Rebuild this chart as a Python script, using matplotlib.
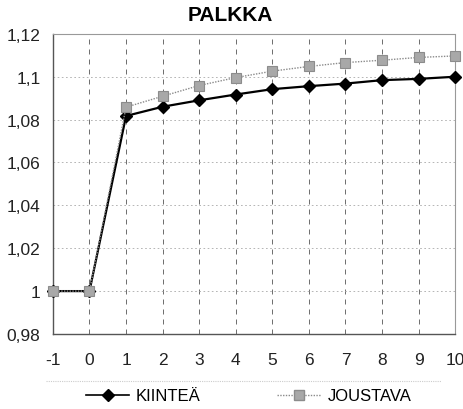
import matplotlib.pyplot as plt
from matplotlib.lines import Line2D

plt.rcParams['font.family'] = ['Liberation Sans', 'DejaVu Sans']
plt.rcParams['axes.unicode_minus'] = False

# ── Data ───────────────────────────────────────────────────────
years = [-1, 0, 1, 2, 3, 4, 5, 6, 7, 8, 9, 10]
kiintea = [1.0, 1.0, 1.0817, 1.0860, 1.0890, 1.0917, 1.0942, 1.0956,
           1.0968, 1.0984, 1.0990, 1.1000]
joustava = [1.0, 1.0, 1.0858, 1.0909, 1.0959, 1.0996, 1.1026, 1.1048,
            1.1066, 1.1077, 1.1090, 1.1097]
y_ticks = [0.98, 1.0, 1.02, 1.04, 1.06, 1.08, 1.10, 1.12]
y_labels = ['0,98', '1', '1,02', '1,04', '1,06', '1,08', '1,1', '1,12']

# ── Plot ───────────────────────────────────────────────────────
fig = plt.figure(figsize=(4.64, 4.10), dpi=100)
ax = fig.add_axes([0.114, 0.183, 0.867, 0.732])

ax.plot(years, kiintea, color='black', lw=1.6, marker='D', ms=6.5,
        mfc='black', mec='black', zorder=4, clip_on=False)
ax.plot(years, joustava, color='#8a8a8a', lw=1.0, ls=(0, (1, 1)),
        marker='s', ms=7.5, mfc='#a8a8a8', mec='#8c8c8c', mew=0.8,
        zorder=5, clip_on=False)

ax.set_xlim(-1, 10)
ax.set_ylim(0.98, 1.12)
ax.set_xticks(years)
ax.set_yticks(y_ticks)
ax.set_yticklabels(y_labels)
ax.tick_params(length=0, labelsize=12.5, colors='#222222')
ax.tick_params(axis='x', pad=13)
ax.tick_params(axis='y', pad=9)

ax.xaxis.grid(True, color='#555555', ls=(0, (6, 6)), lw=0.6)
ax.yaxis.grid(True, color='#aaaaaa', ls=(0, (2, 3)), lw=0.6)

for side in ('top', 'right'):
    ax.spines[side].set_color('#999999')
    ax.spines[side].set_linestyle((0, (1, 1)))
    ax.spines[side].set_linewidth(0.8)
for side in ('left', 'bottom'):
    ax.spines[side].set_color('#555555')
    ax.spines[side].set_linewidth(1.0)

fig.text(0.497, 0.962, 'PALKKA', ha='center', va='center',
         fontsize=15, fontweight='bold')

# separator line above the legend
fig.add_artist(Line2D([0.10, 0.95], [1 - 382 / 410] * 2, color='#cccccc',
                      lw=0.8, ls=(0, (1, 1))))

handles = [
    Line2D([], [], color='black', lw=1.2, marker='D', ms=6.5, mfc='black'),
    Line2D([], [], color='#8a8a8a', lw=1.0, ls=(0, (1, 1)), marker='s',
           ms=7.5, mfc='#a8a8a8', mec='#8c8c8c'),
]
fig.legend(handles, ['KIINTEÄ', 'JOUSTAVA'], loc='center',
           bbox_to_anchor=(0.536, 1 - 397 / 410), ncol=2, frameon=False,
           fontsize=12, handlelength=2.6, columnspacing=4.6,
           handletextpad=0.4)

fig.savefig('out.png', dpi=100)
